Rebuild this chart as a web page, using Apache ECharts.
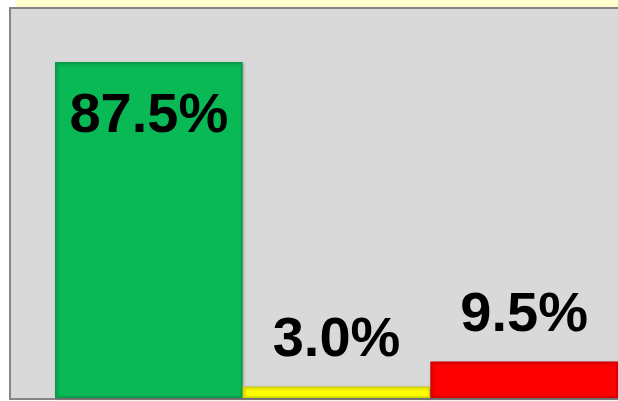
<!DOCTYPE html>
<html>
<head>
<meta charset="utf-8">
<script src="https://cdn.jsdelivr.net/npm/echarts@6/dist/echarts.min.js"></script>
<style>
html,body{margin:0;padding:0;background:#ffffff;}
#chart{width:618px;height:401px;}
</style>
</head>
<body>
<div id="chart"></div>
<script>
const categories = ['Green', 'Yellow', 'Red'];
const values = [87.5, 3.0, 9.5];
const labels = ['87.5%', '3.0%', '9.5%'];
const colors = ['#09B955', '#FFFF00', '#FF0000'];
const borders = ['#0A9A48', '#D4D400', '#D00000'];

const chart = echarts.init(document.getElementById('chart'), null, {renderer: 'canvas'});
const labelFont = {fontFamily: 'Liberation Sans', fontWeight: 'bold', fontSize: 56, color: '#000000'};

chart.setOption({
  animation: false,
  backgroundColor: '#ffffff',
  graphic: [
    {type: 'rect', z: -10, shape: {x: 16, y: 0, width: 610, height: 7}, style: {fill: '#FFFFCC'}},
    {type: 'rect', z: -9, shape: {x: 10, y: 8, width: 620, height: 391}, style: {fill: '#D9D9D9', stroke: '#858585', lineWidth: 2}}
  ],
  grid: {left: 55, right: -3, top: 14, bottom: 3, containLabel: false},
  xAxis: {
    type: 'category', data: categories,
    axisLine: {show: false}, axisTick: {show: false}, axisLabel: {show: false}, splitLine: {show: false}
  },
  yAxis: {
    type: 'value', min: 0, max: 100,
    axisLine: {show: false}, axisTick: {show: false}, axisLabel: {show: false}, splitLine: {show: false}
  },
  series: [{
    type: 'bar',
    barCategoryGap: '0%',
    data: values.map((v, i) => ({
      value: v,
      itemStyle: {color: colors[i], borderColor: borders[i], borderWidth: 1.5,
        shadowColor: 'rgba(0,0,0,0.25)', shadowBlur: 3, shadowOffsetX: 1, shadowOffsetY: 1},
      label: i === 0
        ? Object.assign({show: true, position: 'insideTop', distance: 27, formatter: labels[i]}, labelFont)
        : Object.assign({show: true, position: 'top', distance: 18, formatter: labels[i]}, labelFont)
    }))
  }]
});
</script>
</body>
</html>
